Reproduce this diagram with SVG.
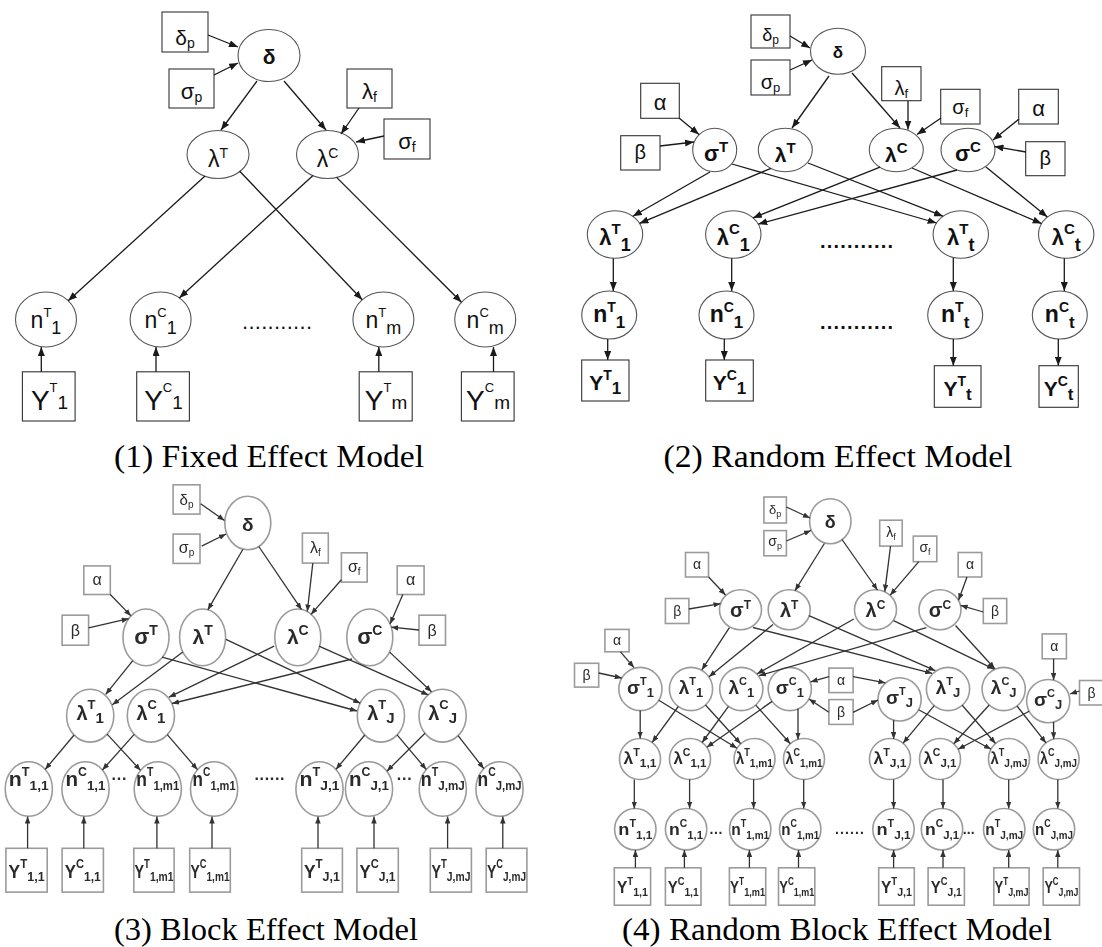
<svg xmlns="http://www.w3.org/2000/svg" width="1102" height="947" viewBox="0 0 1102 947">
<defs>
<style>
.s{font-family:"Liberation Sans",Arial,"DejaVu Sans",sans-serif;text-anchor:middle;fill:#111}
.g{fill:#2a2a2a}
.b{font-weight:bold}
.cap{font-family:"Liberation Serif","Times New Roman",serif;font-size:31px;text-anchor:middle;fill:#000}
.n1{fill:#fff;stroke:#555;stroke-width:1.1}
.r1{fill:#fff;stroke:#333;stroke-width:1.1}
.n3{fill:#fff;stroke:#9b9b9b;stroke-width:1.6}
.e1{fill:none;stroke:#1a1a1a;stroke-width:1.3;marker-end:url(#ah)}
.e3{fill:none;stroke:#333;stroke-width:1.3;marker-end:url(#ahs)}
.f9{font-size:9px}.f10{font-size:10px}.f11{font-size:11px}.f12{font-size:12px}.f13{font-size:13px}
.f14{font-size:14px}.f15{font-size:15px}.f16{font-size:16px}.f17{font-size:17px}.f18{font-size:18px}
.f19{font-size:19px}.f20{font-size:20px}.f21{font-size:21px}.f22{font-size:22px}.f23{font-size:23px}.f28{font-size:28px}
</style>
<marker id="ah" markerUnits="userSpaceOnUse" markerWidth="9" markerHeight="7" refX="9" refY="3.5" orient="auto" viewBox="0 0 9 7"><path d="M0,0 L9,3.5 L0,7 z" fill="#1a1a1a"/></marker>
<marker id="ahs" markerUnits="userSpaceOnUse" markerWidth="7" markerHeight="5.5" refX="7" refY="2.75" orient="auto" viewBox="0 0 7 5.5"><path d="M0,0 L7,2.75 L0,5.5 z" fill="#333"/></marker>
<filter id="soft" x="-5%" y="-5%" width="110%" height="110%"><feGaussianBlur stdDeviation="0.45"/></filter>
</defs>
<rect width="1102" height="947" fill="#fff"/>

<!-- ===== (1) Fixed Effect Model ===== -->
<g id="panel1">
<g id="p1-dp"><rect class="r1" x="162" y="12" width="46" height="40"/><text class="s f21" x="185" y="45">δ<tspan class="f14" dy="3">p</tspan></text></g>
<g id="p1-sp"><rect class="r1" x="169" y="69" width="45" height="39"/><text class="s f22" x="191.5" y="99">σ<tspan class="f14" dy="3">p</tspan></text></g>
<g id="p1-d"><ellipse class="n1" cx="269" cy="55.5" rx="31" ry="26"/><text class="s b f21" x="269" y="64">δ</text></g>
<g id="p1-lf"><rect class="r1" x="347" y="69" width="45" height="39"/><text class="s f22" x="369.5" y="99">λ<tspan class="f14" dy="3">f</tspan></text></g>
<g id="p1-sf"><rect class="r1" x="384" y="119" width="46" height="40"/><text class="s f22" x="407" y="149">σ<tspan class="f14" dy="3">f</tspan></text></g>
<g id="p1-lT"><ellipse class="n1" cx="218" cy="154.5" rx="31" ry="24"/><text class="s f23" x="218" y="166.5">λ<tspan class="f14" dy="-9">T</tspan></text></g>
<g id="p1-lC"><ellipse class="n1" cx="327.5" cy="154.5" rx="31" ry="24"/><text class="s f23" x="327.5" y="166.5">λ<tspan class="f14" dy="-9">C</tspan></text></g>
<g id="p1-nT1"><ellipse class="n1" cx="46" cy="319.5" rx="30.5" ry="27.5"/><text class="s f23" x="46" y="328">n<tspan class="f13" dy="-11">T</tspan><tspan class="f18" dy="17">1</tspan></text></g>
<g id="p1-nC1"><ellipse class="n1" cx="160.6" cy="319.5" rx="30.5" ry="27.5"/><text class="s f23" x="160.6" y="328">n<tspan class="f13" dy="-11">C</tspan><tspan class="f18" dy="17">1</tspan></text></g>
<g id="p1-nTm"><ellipse class="n1" cx="383.4" cy="319.5" rx="30.5" ry="27.5"/><text class="s f23" x="383.4" y="328">n<tspan class="f13" dy="-11">T</tspan><tspan class="f18" dy="17">m</tspan></text></g>
<g id="p1-nCm"><ellipse class="n1" cx="485.2" cy="319.5" rx="30.5" ry="27.5"/><text class="s f23" x="485.2" y="328">n<tspan class="f13" dy="-11">C</tspan><tspan class="f18" dy="17">m</tspan></text></g>
<text class="s f22" x="277" y="329" textLength="70" lengthAdjust="spacing">...........</text>
<g id="p1-YT1"><rect class="r1" x="22.4" y="371.8" width="52.7" height="49.2"/><text class="s f28" x="49.5" y="410">Y<tspan class="f13" dy="-18">T</tspan><tspan class="f19" dy="17">1</tspan></text></g>
<g id="p1-YC1"><rect class="r1" x="136.7" y="371.8" width="52.7" height="49.2"/><text class="s f28" x="163.5" y="410">Y<tspan class="f13" dy="-18">C</tspan><tspan class="f19" dy="17">1</tspan></text></g>
<g id="p1-YTm"><rect class="r1" x="359.2" y="371.8" width="53" height="49.2"/><text class="s f28" x="386" y="410">Y<tspan class="f13" dy="-18">T</tspan><tspan class="f19" dy="17">m</tspan></text></g>
<g id="p1-YCm"><rect class="r1" x="461.4" y="371.8" width="52.7" height="49.2"/><text class="s f28" x="488" y="410">Y<tspan class="f13" dy="-18">C</tspan><tspan class="f19" dy="17">m</tspan></text></g>
<g id="p1-edges">
<path class="e1" d="M208,35 L238,47"/>
<path class="e1" d="M214,75 L238,63"/>
<path class="e1" d="M257,81 L221,130"/>
<path class="e1" d="M284,81 L326,130"/>
<path class="e1" d="M359,108 L341,134"/>
<path class="e1" d="M384,136 L356,142"/>
<path class="e1" d="M205,176 L68.2,300.8"/>
<path class="e1" d="M239.5,171 L362.2,299.7"/>
<path class="e1" d="M313,175.4 L179.3,297.9"/>
<path class="e1" d="M336.6,177.4 L461.5,302.3"/>
<path class="e1" d="M41.3,371.8 L41.3,347"/>
<path class="e1" d="M156,371.8 L156,347"/>
<path class="e1" d="M378.8,371.8 L378.8,347"/>
<path class="e1" d="M493.5,371.8 L493.5,347"/>
</g>
<text class="cap" x="269" y="467" textLength="310" lengthAdjust="spacingAndGlyphs">(1) Fixed Effect Model</text>
</g>

<!-- ===== (2) Random Effect Model ===== -->
<g id="panel2">
<g id="p2-dp"><rect class="r1" x="751" y="15" width="39" height="33"/><text class="s f18" x="770.5" y="41">δ<tspan class="f12" dy="3">p</tspan></text></g>
<g id="p2-sp"><rect class="r1" x="751" y="60" width="39" height="35"/><text class="s f20" x="770.5" y="89">σ<tspan class="f13" dy="3">p</tspan></text></g>
<g id="p2-d"><ellipse class="n1" cx="838" cy="51.2" rx="27.5" ry="23"/><text class="s b f17" x="838" y="57.5">δ</text></g>
<g id="p2-lf"><rect class="r1" x="881.7" y="66.7" width="39.3" height="34"/><text class="s f20" x="901.3" y="95">λ<tspan class="f13" dy="3">f</tspan></text></g>
<g id="p2-sf"><rect class="r1" x="940.7" y="89.3" width="39.3" height="34.7"/><text class="s f20" x="960.3" y="114">σ<tspan class="f13" dy="3">f</tspan></text></g>
<g id="p2-aL"><rect class="r1" x="640.7" y="83.3" width="38.6" height="35"/><text class="s f22" x="660" y="110">α</text></g>
<g id="p2-bL"><rect class="r1" x="620.7" y="135.7" width="39.3" height="34.3"/><text class="s f20" x="640.3" y="159">β</text></g>
<g id="p2-aR"><rect class="r1" x="1018.7" y="89.3" width="39.6" height="34.7"/><text class="s f22" x="1038.5" y="116">α</text></g>
<g id="p2-bR"><rect class="r1" x="1025.7" y="141.7" width="39.3" height="34"/><text class="s f20" x="1045.3" y="165">β</text></g>
<g id="p2-sT"><ellipse class="n1" cx="714.7" cy="150" rx="22" ry="21.7"/><text class="s b f22" x="716" y="161">σ<tspan class="f15" dy="-9">T</tspan></text></g>
<g id="p2-lT"><ellipse class="n1" cx="785.3" cy="150" rx="27" ry="21.7"/><text class="s b f21" x="785.3" y="161.5">λ<tspan class="f15" dy="-9">T</tspan></text></g>
<g id="p2-lC"><ellipse class="n1" cx="896.3" cy="150" rx="27" ry="21.7"/><text class="s b f21" x="896.3" y="161.5">λ<tspan class="f15" dy="-9">C</tspan></text></g>
<g id="p2-sC"><ellipse class="n1" cx="968" cy="150" rx="27" ry="21.7"/><text class="s b f22" x="968" y="161">σ<tspan class="f15" dy="-9">C</tspan></text></g>
<g id="p2-lT1"><ellipse class="n1" cx="615" cy="234.5" rx="27.7" ry="23.8"/><text class="s b f22" x="615" y="245">λ<tspan class="f15" dy="-11">T</tspan><tspan class="f18" dy="17">1</tspan></text></g>
<g id="p2-lC1"><ellipse class="n1" cx="733.3" cy="234.5" rx="27.7" ry="23.8"/><text class="s b f22" x="733.3" y="245">λ<tspan class="f15" dy="-11">C</tspan><tspan class="f18" dy="17">1</tspan></text></g>
<g id="p2-lTt"><ellipse class="n1" cx="960.8" cy="234.5" rx="27.7" ry="23.8"/><text class="s b f22" x="960.8" y="245">λ<tspan class="f15" dy="-11">T</tspan><tspan class="f18" dy="17">t</tspan></text></g>
<g id="p2-lCt"><ellipse class="n1" cx="1066.2" cy="234.5" rx="27.7" ry="23.8"/><text class="s b f22" x="1066.2" y="245">λ<tspan class="f15" dy="-11">C</tspan><tspan class="f18" dy="17">t</tspan></text></g>
<text class="s b f20" x="856.5" y="248" textLength="73" lengthAdjust="spacing">...........</text>
<g id="p2-nT1"><ellipse class="n1" cx="609.2" cy="315" rx="27.5" ry="24"/><text class="s b f23" x="609.2" y="321.5">n<tspan class="f14" dy="-10">T</tspan><tspan class="f17" dy="16">1</tspan></text></g>
<g id="p2-nC1"><ellipse class="n1" cx="726.5" cy="315" rx="27.5" ry="24"/><text class="s b f23" x="726.5" y="321.5">n<tspan class="f14" dy="-10">C</tspan><tspan class="f17" dy="16">1</tspan></text></g>
<g id="p2-nTt"><ellipse class="n1" cx="955.2" cy="315" rx="27.5" ry="24"/><text class="s b f23" x="955.2" y="321.5">n<tspan class="f14" dy="-10">T</tspan><tspan class="f17" dy="16">t</tspan></text></g>
<g id="p2-nCt"><ellipse class="n1" cx="1059.8" cy="315" rx="27.5" ry="24"/><text class="s b f23" x="1059.8" y="321.5">n<tspan class="f14" dy="-10">C</tspan><tspan class="f17" dy="16">t</tspan></text></g>
<text class="s b f20" x="856.5" y="328.5" textLength="73" lengthAdjust="spacing">...........</text>
<g id="p2-YT1"><rect class="r1" x="581.7" y="360" width="47.3" height="41"/><text class="s b f21" x="605.3" y="390">Y<tspan class="f14" dy="-10">T</tspan><tspan class="f17" dy="14">1</tspan></text></g>
<g id="p2-YC1"><rect class="r1" x="705.7" y="360" width="47.6" height="41"/><text class="s b f21" x="729.5" y="390">Y<tspan class="f14" dy="-10">C</tspan><tspan class="f17" dy="14">1</tspan></text></g>
<g id="p2-YTt"><rect class="r1" x="934.3" y="365.7" width="46.7" height="41.6"/><text class="s b f21" x="957.6" y="395.5">Y<tspan class="f14" dy="-10">T</tspan><tspan class="f17" dy="14">t</tspan></text></g>
<g id="p2-YCt"><rect class="r1" x="1039" y="365.7" width="39.3" height="41.6"/><text class="s b f21" x="1058.6" y="395.5">Y<tspan class="f14" dy="-10">C</tspan><tspan class="f17" dy="14">t</tspan></text></g>
<g id="p2-edges">
<path class="e1" d="M790,36 L810,48"/>
<path class="e1" d="M790,70 L812,60"/>
<path class="e1" d="M829,76 L792,128"/>
<path class="e1" d="M852,73 L900,128"/>
<path class="e1" d="M908,101 L908,129.5"/>
<path class="e1" d="M941,118 L917,134.5"/>
<path class="e1" d="M679,118 L699,134.5"/>
<path class="e1" d="M660,146 L694,142"/>
<path class="e1" d="M1019,119 L993,140"/>
<path class="e1" d="M1026,152 L994.5,146.5"/>
<path class="e1" d="M710,172 L632.8,216.3"/>
<path class="e1" d="M771,168.3 L639.5,223.4"/>
<path class="e1" d="M732,164 L936.6,223"/>
<path class="e1" d="M808,163 L943,216.2"/>
<path class="e1" d="M880,167.2 L752.9,217.9"/>
<path class="e1" d="M957,170 L758.3,224.1"/>
<path class="e1" d="M912,168 L1041.6,223.6"/>
<path class="e1" d="M986,167 L1047.4,217"/>
<path class="e1" d="M613.3,258.3 L613.3,291"/>
<path class="e1" d="M731.7,258.3 L731.7,291"/>
<path class="e1" d="M953.3,258 L953.3,291"/>
<path class="e1" d="M1064.3,258.3 L1064.3,291"/>
<path class="e1" d="M607.7,339 L607.7,360"/>
<path class="e1" d="M724.3,339 L724.3,360"/>
<path class="e1" d="M953.3,339 L953.3,365.7"/>
<path class="e1" d="M1058.3,339 L1058.3,365.7"/>
</g>
<text class="cap" x="838" y="467" textLength="349" lengthAdjust="spacingAndGlyphs">(2) Random Effect Model</text>
</g>

<!-- ===== (3) Block Effect Model ===== -->
<g id="panel3" filter="url(#soft)">
<g id="p3-dp"><rect class="n3" x="173.1" y="484.8" width="26.9" height="29.3"/><text class="s g f15" x="186.5" y="505">δ<tspan class="f10" dy="3">p</tspan></text></g>
<g id="p3-sp"><rect class="n3" x="173.1" y="534.1" width="26.9" height="29.3"/><text class="s g f16" x="186.5" y="553">σ<tspan class="f10" dy="3">p</tspan></text></g>
<g id="p3-d"><ellipse class="n3" cx="247.8" cy="523" rx="23" ry="26.7"/><text class="s g b f19" x="247.8" y="531">δ</text></g>
<g id="p3-lf"><rect class="n3" x="302.4" y="533.1" width="25.9" height="30"/><text class="s g f16" x="315.3" y="553">λ<tspan class="f10" dy="3">f</tspan></text></g>
<g id="p3-sf"><rect class="n3" x="341.4" y="552.8" width="25.8" height="29.3"/><text class="s g f16" x="354.3" y="572">σ<tspan class="f10" dy="3">f</tspan></text></g>
<g id="p3-aL"><rect class="n3" x="83.8" y="565.9" width="26.5" height="28.6"/><text class="s g f16" x="97" y="585">α</text></g>
<g id="p3-bL"><rect class="n3" x="62.1" y="615.2" width="26.5" height="30"/><text class="s g f16" x="75.3" y="636">β</text></g>
<g id="p3-aR"><rect class="n3" x="397.2" y="565.9" width="26.9" height="28.6"/><text class="s g f16" x="410.6" y="585">α</text></g>
<g id="p3-bR"><rect class="n3" x="419" y="615.2" width="26.5" height="30"/><text class="s g f16" x="432.2" y="636">β</text></g>
<g id="p3-sT"><ellipse class="n3" cx="146" cy="637.4" rx="23" ry="28.4"/><text class="s g b f22" x="146" y="644">σ<tspan class="f14" dy="-9">T</tspan></text></g>
<g id="p3-lT"><ellipse class="n3" cx="202.6" cy="637.4" rx="23" ry="28.4"/><text class="s g b f21" x="202.6" y="644">λ<tspan class="f14" dy="-9">T</tspan></text></g>
<g id="p3-lC"><ellipse class="n3" cx="297.8" cy="637.4" rx="23" ry="28.4"/><text class="s g b f21" x="297.8" y="644">λ<tspan class="f14" dy="-9">C</tspan></text></g>
<g id="p3-sC"><ellipse class="n3" cx="369.8" cy="637.4" rx="23" ry="28.4"/><text class="s g b f22" x="369.8" y="644">σ<tspan class="f14" dy="-9">C</tspan></text></g>
<g id="p3-lT1"><ellipse class="n3" cx="90.2" cy="715.7" rx="23.6" ry="26.4"/><text class="s g b f20" x="90.2" y="720">λ<tspan class="f13" dy="-11">T</tspan><tspan class="f15" dy="14">1</tspan></text></g>
<g id="p3-lC1"><ellipse class="n3" cx="150.9" cy="715.7" rx="23.6" ry="26.4"/><text class="s g b f20" x="150.9" y="720">λ<tspan class="f13" dy="-11">C</tspan><tspan class="f15" dy="14">1</tspan></text></g>
<g id="p3-lTJ"><ellipse class="n3" cx="380.9" cy="715.7" rx="23.6" ry="26.4"/><text class="s g b f20" x="380.9" y="720">λ<tspan class="f13" dy="-11">T</tspan><tspan class="f15" dy="14">J</tspan></text></g>
<g id="p3-lCJ"><ellipse class="n3" cx="442.6" cy="715.7" rx="23.6" ry="26.4"/><text class="s g b f20" x="442.6" y="720">λ<tspan class="f13" dy="-11">C</tspan><tspan class="f15" dy="14">J</tspan></text></g>
<g id="p3-nT11"><ellipse class="n3" cx="28.8" cy="789" rx="23.6" ry="27.2"/><text class="s g b f20" x="28.8" y="786" textLength="40" lengthAdjust="spacingAndGlyphs">n<tspan class="f12" dy="-10">T</tspan><tspan class="f13" dy="14">1,1</tspan></text></g>
<g id="p3-nC11"><ellipse class="n3" cx="85.5" cy="789" rx="23.6" ry="27.2"/><text class="s g b f20" x="85.5" y="786" textLength="40" lengthAdjust="spacingAndGlyphs">n<tspan class="f12" dy="-10">C</tspan><tspan class="f13" dy="14">1,1</tspan></text></g>
<g id="p3-nT1m"><ellipse class="n3" cx="157.8" cy="789" rx="23.6" ry="27.2"/><text class="s g b f20" x="157.8" y="786" textLength="43" lengthAdjust="spacingAndGlyphs">n<tspan class="f12" dy="-10">T</tspan><tspan class="f13" dy="14">1,m1</tspan></text></g>
<g id="p3-nC1m"><ellipse class="n3" cx="214.1" cy="789" rx="23.6" ry="27.2"/><text class="s g b f20" x="214.1" y="786" textLength="43" lengthAdjust="spacingAndGlyphs">n<tspan class="f12" dy="-10">C</tspan><tspan class="f13" dy="14">1,m1</tspan></text></g>
<g id="p3-nTJ1"><ellipse class="n3" cx="319.5" cy="789" rx="23.6" ry="27.2"/><text class="s g b f20" x="319.5" y="786" textLength="40" lengthAdjust="spacingAndGlyphs">n<tspan class="f12" dy="-10">T</tspan><tspan class="f13" dy="14">J,1</tspan></text></g>
<g id="p3-nCJ1"><ellipse class="n3" cx="369" cy="789" rx="23.6" ry="27.2"/><text class="s g b f20" x="369" y="786" textLength="40" lengthAdjust="spacingAndGlyphs">n<tspan class="f12" dy="-10">C</tspan><tspan class="f13" dy="14">J,1</tspan></text></g>
<g id="p3-nTJm"><ellipse class="n3" cx="442.8" cy="789" rx="23.6" ry="27.2"/><text class="s g b f20" x="442.8" y="786" textLength="44" lengthAdjust="spacingAndGlyphs">n<tspan class="f12" dy="-10">T</tspan><tspan class="f13" dy="14">J,mJ</tspan></text></g>
<g id="p3-nCJm"><ellipse class="n3" cx="499.5" cy="789" rx="23.6" ry="27.2"/><text class="s g b f20" x="499.5" y="786" textLength="44" lengthAdjust="spacingAndGlyphs">n<tspan class="f12" dy="-10">C</tspan><tspan class="f13" dy="14">J,mJ</tspan></text></g>
<text class="s g b f16" x="119" y="779.5" textLength="15" lengthAdjust="spacing">...</text>
<text class="s g b f16" x="269.5" y="779.5" textLength="30" lengthAdjust="spacing">......</text>
<text class="s g b f16" x="404.3" y="779.5" textLength="15" lengthAdjust="spacing">...</text>
<g id="p3-YT11"><rect class="n3" x="5.9" y="848.3" width="41.3" height="43.8"/><text class="s g b f18" x="26.6" y="878.3" textLength="36" lengthAdjust="spacingAndGlyphs">Y<tspan class="f12" dy="-10">T</tspan><tspan class="f13" dy="13">1,1</tspan></text></g>
<g id="p3-YC11"><rect class="n3" x="62.1" y="848.3" width="41.3" height="43.8"/><text class="s g b f18" x="82.8" y="878.3" textLength="36" lengthAdjust="spacingAndGlyphs">Y<tspan class="f12" dy="-10">C</tspan><tspan class="f13" dy="13">1,1</tspan></text></g>
<g id="p3-YT1m"><rect class="n3" x="133.8" y="848.3" width="40.3" height="43.8"/><text class="s g b f18" x="154" y="878.3" textLength="39" lengthAdjust="spacingAndGlyphs">Y<tspan class="f12" dy="-10">T</tspan><tspan class="f13" dy="13">1,m1</tspan></text></g>
<g id="p3-YC1m"><rect class="n3" x="189.7" y="848.3" width="40.6" height="43.8"/><text class="s g b f18" x="210" y="878.3" textLength="39" lengthAdjust="spacingAndGlyphs">Y<tspan class="f12" dy="-10">C</tspan><tspan class="f13" dy="13">1,m1</tspan></text></g>
<g id="p3-YTJ1"><rect class="n3" x="301.7" y="848.3" width="40.7" height="43.8"/><text class="s g b f18" x="322" y="878.3" textLength="36" lengthAdjust="spacingAndGlyphs">Y<tspan class="f12" dy="-10">T</tspan><tspan class="f13" dy="13">J,1</tspan></text></g>
<g id="p3-YCJ1"><rect class="n3" x="356.9" y="848.3" width="41.4" height="43.8"/><text class="s g b f18" x="377.6" y="878.3" textLength="36" lengthAdjust="spacingAndGlyphs">Y<tspan class="f12" dy="-10">C</tspan><tspan class="f13" dy="13">J,1</tspan></text></g>
<g id="p3-YTJm"><rect class="n3" x="430.3" y="848.3" width="41.1" height="43.8"/><text class="s g b f18" x="450.9" y="878.3" textLength="39" lengthAdjust="spacingAndGlyphs">Y<tspan class="f12" dy="-10">T</tspan><tspan class="f13" dy="13">J,mJ</tspan></text></g>
<g id="p3-YCJm"><rect class="n3" x="486.2" y="848.3" width="40.7" height="43.8"/><text class="s g b f18" x="506.5" y="878.3" textLength="39" lengthAdjust="spacingAndGlyphs">Y<tspan class="f12" dy="-10">C</tspan><tspan class="f13" dy="13">J,mJ</tspan></text></g>
<g id="p3-edges">
<path class="e3" d="M200.7,503.8 L224.5,520.5"/>
<path class="e3" d="M201.7,546.2 L226,534"/>
<path class="e3" d="M242.8,549.5 L207.8,609.9"/>
<path class="e3" d="M258.8,546.5 L301.6,609.7"/>
<path class="e3" d="M312.8,563.1 L307.3,611.5"/>
<path class="e3" d="M341.4,579.7 L311,614.4"/>
<path class="e3" d="M110.3,594.5 L131,615.9"/>
<path class="e3" d="M88.6,627.9 L128.7,618.7"/>
<path class="e3" d="M402.8,594.5 L390.1,623.9"/>
<path class="e3" d="M419,630 L391.3,627.2"/>
<path class="e3" d="M132.8,660.7 L105.7,694.4"/>
<path class="e3" d="M182.8,652.1 L112.3,704.8"/>
<path class="e3" d="M162.1,657.2 L356.9,711"/>
<path class="e3" d="M225.9,639.3 L360.2,703.2"/>
<path class="e3" d="M274.1,646.2 L169,697.2"/>
<path class="e3" d="M352,659 L172.1,703.5"/>
<path class="e3" d="M319,646.2 L428.3,694.9"/>
<path class="e3" d="M389.7,652.1 L431.5,691.8"/>
<path class="e3" d="M74.1,735 L45.2,769.4"/>
<path class="e3" d="M107.1,734.1 L140.6,770.4"/>
<path class="e3" d="M134.2,734.4 L102.4,770"/>
<path class="e3" d="M167.3,734.7 L197.5,769.7"/>
<path class="e3" d="M364.8,735 L335.9,769.4"/>
<path class="e3" d="M397.1,734.9 L426.3,769.5"/>
<path class="e3" d="M425,733.3 L386.9,771.2"/>
<path class="e3" d="M458.1,735.6 L483.8,768.7"/>
<path class="e3" d="M27.6,848.3 L27.6,816.5"/>
<path class="e3" d="M83.8,848.3 L83.8,816.5"/>
<path class="e3" d="M156.9,848.3 L156.9,816.5"/>
<path class="e3" d="M212,848.3 L212,816.5"/>
<path class="e3" d="M318,848.3 L318,816.5"/>
<path class="e3" d="M374,848.3 L374,816.5"/>
<path class="e3" d="M447.6,848.3 L447.6,816.5"/>
<path class="e3" d="M502.8,848.3 L502.8,816.5"/>
</g>
</g>
<text class="cap" x="266" y="939.5" textLength="304" lengthAdjust="spacingAndGlyphs">(3) Block Effect Model</text>

<!-- ===== (4) Random Block Effect Model ===== -->
<g id="panel4" filter="url(#soft)">
<g id="p4-dp"><rect class="n3" x="763.9" y="497" width="22.5" height="26"/><text class="s g f13" x="775.2" y="514">δ<tspan class="f9" dy="3">p</tspan></text></g>
<g id="p4-sp"><rect class="n3" x="763.9" y="530.6" width="22.5" height="25.2"/><text class="s g f14" x="775.2" y="546">σ<tspan class="f9" dy="3">p</tspan></text></g>
<g id="p4-d"><ellipse class="n3" cx="830.3" cy="521.2" rx="20.7" ry="22.5"/><text class="s g b f18" x="830.3" y="528">δ</text></g>
<g id="p4-lf"><rect class="n3" x="879.7" y="520.2" width="22.5" height="25.9"/><text class="s g f14" x="891" y="537">λ<tspan class="f9" dy="3">f</tspan></text></g>
<g id="p4-sf"><rect class="n3" x="913.3" y="536.1" width="23.5" height="25.6"/><text class="s g f14" x="925" y="552">σ<tspan class="f9" dy="3">f</tspan></text></g>
<g id="p4-aL"><rect class="n3" x="685.5" y="552.5" width="23" height="24.5"/><text class="s g f14" x="697" y="569">α</text></g>
<g id="p4-bL"><rect class="n3" x="665.4" y="598.5" width="23.5" height="25"/><text class="s g f14" x="677.2" y="616">β</text></g>
<g id="p4-aR"><rect class="n3" x="958.2" y="552.5" width="23.5" height="24.5"/><text class="s g f14" x="970" y="569">α</text></g>
<g id="p4-bR"><rect class="n3" x="983.3" y="598.5" width="23.4" height="25"/><text class="s g f14" x="995" y="616">β</text></g>
<g id="p4-sT"><ellipse class="n3" cx="740.5" cy="609.7" rx="21" ry="20"/><text class="s g b f20" x="740.5" y="616.5">σ<tspan class="f12" dy="-8">T</tspan></text></g>
<g id="p4-lT"><ellipse class="n3" cx="789.2" cy="609.7" rx="21" ry="20"/><text class="s g b f20" x="789.2" y="616.5">λ<tspan class="f12" dy="-8">T</tspan></text></g>
<g id="p4-lC"><ellipse class="n3" cx="875.5" cy="609.7" rx="21" ry="20"/><text class="s g b f20" x="875.5" y="616.5">λ<tspan class="f12" dy="-8">C</tspan></text></g>
<g id="p4-sC"><ellipse class="n3" cx="940" cy="609.7" rx="21" ry="20"/><text class="s g b f20" x="940" y="616.5">σ<tspan class="f12" dy="-8">C</tspan></text></g>
<g id="p4-aL2"><rect class="n3" x="604.9" y="629.4" width="24.2" height="22.4"/><text class="s g f14" x="617" y="645">α</text></g>
<g id="p4-bL2"><rect class="n3" x="574.5" y="663.3" width="24.2" height="23.8"/><text class="s g f14" x="586.6" y="680">β</text></g>
<g id="p4-aM"><rect class="n3" x="828.9" y="668.1" width="24.2" height="24.5"/><text class="s g f14" x="841" y="685">α</text></g>
<g id="p4-bM"><rect class="n3" x="828.9" y="699.6" width="24.2" height="24.8"/><text class="s g f14" x="841" y="717">β</text></g>
<g id="p4-aR2"><rect class="n3" x="1042.2" y="633.9" width="24.2" height="24.9"/><text class="s g f14" x="1054.3" y="651">α</text></g>
<g id="p4-bR2"><rect class="n3" x="1079.5" y="680.5" width="24" height="24.5"/><text class="s g f14" x="1091.5" y="698">β</text></g>
<g id="p4-sT1"><ellipse class="n3" cx="640.4" cy="689" rx="21.6" ry="21.6"/><text class="s g b f19" x="640.4" y="694">σ<tspan class="f11" dy="-9">T</tspan><tspan class="f13" dy="12">1</tspan></text></g>
<g id="p4-lT1"><ellipse class="n3" cx="691" cy="689" rx="21.6" ry="21.6"/><text class="s g b f19" x="691" y="694">λ<tspan class="f11" dy="-9">T</tspan><tspan class="f13" dy="12">1</tspan></text></g>
<g id="p4-lC1"><ellipse class="n3" cx="741.3" cy="689" rx="21.6" ry="21.6"/><text class="s g b f19" x="741.3" y="694">λ<tspan class="f11" dy="-9">C</tspan><tspan class="f13" dy="12">1</tspan></text></g>
<g id="p4-sC1"><ellipse class="n3" cx="789.8" cy="689" rx="21.6" ry="21.6"/><text class="s g b f19" x="789.8" y="694">σ<tspan class="f11" dy="-9">C</tspan><tspan class="f13" dy="12">1</tspan></text></g>
<g id="p4-sTJ"><ellipse class="n3" cx="899.6" cy="699.4" rx="21.6" ry="21.6"/><text class="s g b f19" x="899.6" y="704.4">σ<tspan class="f11" dy="-9">T</tspan><tspan class="f13" dy="12">J</tspan></text></g>
<g id="p4-lTJ"><ellipse class="n3" cx="948" cy="689" rx="21.6" ry="21.6"/><text class="s g b f19" x="948" y="694">λ<tspan class="f11" dy="-9">T</tspan><tspan class="f13" dy="12">J</tspan></text></g>
<g id="p4-lCJ"><ellipse class="n3" cx="1003.7" cy="689" rx="21.6" ry="21.6"/><text class="s g b f19" x="1003.7" y="694">λ<tspan class="f11" dy="-9">C</tspan><tspan class="f13" dy="12">J</tspan></text></g>
<g id="p4-sCJ"><ellipse class="n3" cx="1048.2" cy="701.1" rx="21.6" ry="21.6"/><text class="s g b f19" x="1048.2" y="706.1">σ<tspan class="f11" dy="-9">C</tspan><tspan class="f13" dy="12">J</tspan></text></g>
<g id="p4-lT11"><ellipse class="n3" cx="640" cy="759" rx="20.5" ry="20.5"/><text class="s g b f16" x="640" y="764" textLength="33" lengthAdjust="spacingAndGlyphs">λ<tspan class="f10" dy="-8">T</tspan><tspan class="f11" dy="11">1,1</tspan></text></g>
<g id="p4-lC11"><ellipse class="n3" cx="690" cy="759" rx="20.5" ry="20.5"/><text class="s g b f16" x="690" y="764" textLength="33" lengthAdjust="spacingAndGlyphs">λ<tspan class="f10" dy="-8">C</tspan><tspan class="f11" dy="11">1,1</tspan></text></g>
<g id="p4-lT1m"><ellipse class="n3" cx="754.5" cy="759" rx="20.5" ry="20.5"/><text class="s g b f16" x="754.5" y="764" textLength="37" lengthAdjust="spacingAndGlyphs">λ<tspan class="f10" dy="-8">T</tspan><tspan class="f11" dy="11">1,m1</tspan></text></g>
<g id="p4-lC1m"><ellipse class="n3" cx="804" cy="759" rx="20.5" ry="20.5"/><text class="s g b f16" x="804" y="764" textLength="37" lengthAdjust="spacingAndGlyphs">λ<tspan class="f10" dy="-8">C</tspan><tspan class="f11" dy="11">1,m1</tspan></text></g>
<g id="p4-lTJ1"><ellipse class="n3" cx="890" cy="759" rx="20.5" ry="20.5"/><text class="s g b f16" x="890" y="764" textLength="33" lengthAdjust="spacingAndGlyphs">λ<tspan class="f10" dy="-8">T</tspan><tspan class="f11" dy="11">J,1</tspan></text></g>
<g id="p4-lCJ1"><ellipse class="n3" cx="940" cy="759" rx="20.5" ry="20.5"/><text class="s g b f16" x="940" y="764" textLength="33" lengthAdjust="spacingAndGlyphs">λ<tspan class="f10" dy="-8">C</tspan><tspan class="f11" dy="11">J,1</tspan></text></g>
<g id="p4-lTJm"><ellipse class="n3" cx="1009" cy="759" rx="20.5" ry="20.5"/><text class="s g b f16" x="1009" y="764" textLength="37" lengthAdjust="spacingAndGlyphs">λ<tspan class="f10" dy="-8">T</tspan><tspan class="f11" dy="11">J,mJ</tspan></text></g>
<g id="p4-lCJm"><ellipse class="n3" cx="1058.6" cy="759" rx="20.5" ry="20.5"/><text class="s g b f16" x="1058.6" y="764" textLength="37" lengthAdjust="spacingAndGlyphs">λ<tspan class="f10" dy="-8">C</tspan><tspan class="f11" dy="11">J,mJ</tspan></text></g>
<g id="p4-nT11"><ellipse class="n3" cx="635.3" cy="829.2" rx="20.7" ry="20.7"/><text class="s g b f17" x="635.3" y="835" textLength="34" lengthAdjust="spacingAndGlyphs">n<tspan class="f10" dy="-8">T</tspan><tspan class="f11" dy="12">1,1</tspan></text></g>
<g id="p4-nC11"><ellipse class="n3" cx="686.1" cy="829.2" rx="20.7" ry="20.7"/><text class="s g b f17" x="686.1" y="835" textLength="34" lengthAdjust="spacingAndGlyphs">n<tspan class="f10" dy="-8">C</tspan><tspan class="f11" dy="12">1,1</tspan></text></g>
<g id="p4-nT1m"><ellipse class="n3" cx="750.2" cy="829.2" rx="20.7" ry="20.7"/><text class="s g b f17" x="750.2" y="835" textLength="38" lengthAdjust="spacingAndGlyphs">n<tspan class="f10" dy="-8">T</tspan><tspan class="f11" dy="12">1,m1</tspan></text></g>
<g id="p4-nC1m"><ellipse class="n3" cx="800.2" cy="829.2" rx="20.7" ry="20.7"/><text class="s g b f17" x="800.2" y="835" textLength="38" lengthAdjust="spacingAndGlyphs">n<tspan class="f10" dy="-8">C</tspan><tspan class="f11" dy="12">1,m1</tspan></text></g>
<g id="p4-nTJ1"><ellipse class="n3" cx="893.5" cy="829.2" rx="20.7" ry="20.7"/><text class="s g b f17" x="893.5" y="835" textLength="34" lengthAdjust="spacingAndGlyphs">n<tspan class="f10" dy="-8">T</tspan><tspan class="f11" dy="12">J,1</tspan></text></g>
<g id="p4-nCJ1"><ellipse class="n3" cx="942" cy="829.2" rx="20.7" ry="20.7"/><text class="s g b f17" x="942" y="835" textLength="34" lengthAdjust="spacingAndGlyphs">n<tspan class="f10" dy="-8">C</tspan><tspan class="f11" dy="12">J,1</tspan></text></g>
<g id="p4-nTJm"><ellipse class="n3" cx="1004.2" cy="829.2" rx="20.7" ry="20.7"/><text class="s g b f17" x="1004.2" y="835" textLength="38" lengthAdjust="spacingAndGlyphs">n<tspan class="f10" dy="-8">T</tspan><tspan class="f11" dy="12">J,mJ</tspan></text></g>
<g id="p4-nCJm"><ellipse class="n3" cx="1054" cy="829.2" rx="20.7" ry="20.7"/><text class="s g b f17" x="1054" y="835" textLength="38" lengthAdjust="spacingAndGlyphs">n<tspan class="f10" dy="-8">C</tspan><tspan class="f11" dy="12">J,mJ</tspan></text></g>
<text class="s g b f14" x="716" y="833.5" textLength="13" lengthAdjust="spacing">...</text>
<text class="s g b f14" x="849.5" y="834" textLength="29" lengthAdjust="spacing">......</text>
<text class="s g b f14" x="968.7" y="833.5" textLength="12" lengthAdjust="spacing">...</text>
<g id="p4-YT11"><rect class="n3" x="614.3" y="867.8" width="36.3" height="37.4"/><text class="s g b f16" x="632.5" y="893" textLength="31" lengthAdjust="spacingAndGlyphs">Y<tspan class="f10" dy="-8">T</tspan><tspan class="f11" dy="11">1,1</tspan></text></g>
<g id="p4-YC11"><rect class="n3" x="665.4" y="867.8" width="35.6" height="37.4"/><text class="s g b f16" x="683.2" y="893" textLength="31" lengthAdjust="spacingAndGlyphs">Y<tspan class="f10" dy="-8">C</tspan><tspan class="f11" dy="11">1,1</tspan></text></g>
<g id="p4-YT1m"><rect class="n3" x="729.4" y="867.8" width="36.3" height="37.4"/><text class="s g b f16" x="747.6" y="893" textLength="35" lengthAdjust="spacingAndGlyphs">Y<tspan class="f10" dy="-8">T</tspan><tspan class="f11" dy="11">1,m1</tspan></text></g>
<g id="p4-YC1m"><rect class="n3" x="778.5" y="867.8" width="36.3" height="37.4"/><text class="s g b f16" x="796.7" y="893" textLength="35" lengthAdjust="spacingAndGlyphs">Y<tspan class="f10" dy="-8">C</tspan><tspan class="f11" dy="11">1,m1</tspan></text></g>
<g id="p4-YTJ1"><rect class="n3" x="878.7" y="867.8" width="35.6" height="37.4"/><text class="s g b f16" x="896.5" y="893" textLength="31" lengthAdjust="spacingAndGlyphs">Y<tspan class="f10" dy="-8">T</tspan><tspan class="f11" dy="11">J,1</tspan></text></g>
<g id="p4-YCJ1"><rect class="n3" x="928.1" y="867.8" width="36.3" height="37.4"/><text class="s g b f16" x="946.3" y="893" textLength="31" lengthAdjust="spacingAndGlyphs">Y<tspan class="f10" dy="-8">C</tspan><tspan class="f11" dy="11">J,1</tspan></text></g>
<g id="p4-YTJm"><rect class="n3" x="993.8" y="867.8" width="35.3" height="37.4"/><text class="s g b f16" x="1011.5" y="893" textLength="34" lengthAdjust="spacingAndGlyphs">Y<tspan class="f10" dy="-8">T</tspan><tspan class="f11" dy="11">J,mJ</tspan></text></g>
<g id="p4-YCJm"><rect class="n3" x="1043.2" y="867.8" width="36.3" height="37.4"/><text class="s g b f16" x="1061.4" y="893" textLength="34" lengthAdjust="spacingAndGlyphs">Y<tspan class="f10" dy="-8">C</tspan><tspan class="f11" dy="11">J,mJ</tspan></text></g>
<g id="p4-edges">
<path class="e3" d="M786.4,507 L810,518"/>
<path class="e3" d="M786.4,541 L811,530.5"/>
<path class="e3" d="M824.4,543.5 L795,590.7"/>
<path class="e3" d="M842,539.5 L877.5,590"/>
<path class="e3" d="M890.5,546.1 L884.8,591.6"/>
<path class="e3" d="M918.8,561.7 L890.2,595.2"/>
<path class="e3" d="M708.6,577 L725.5,595"/>
<path class="e3" d="M688.9,609 L720.5,603.7"/>
<path class="e3" d="M967,577 L958.5,600.3"/>
<path class="e3" d="M983.3,612 L960.6,605.3"/>
<path class="e3" d="M729.4,627.7 L701.8,669.9"/>
<path class="e3" d="M773,624.6 L709,676.8"/>
<path class="e3" d="M753,627.5 L932.1,673.3"/>
<path class="e3" d="M808.9,615.6 L935.3,670.7"/>
<path class="e3" d="M853.8,619 L757,673.9"/>
<path class="e3" d="M926.4,627.7 L759.1,675.7"/>
<path class="e3" d="M893.6,620.7 L994,669.1"/>
<path class="e3" d="M955.5,625.5 L994.8,668.7"/>
<path class="e3" d="M620.5,651.8 L634,667.6"/>
<path class="e3" d="M598.7,673 L621.7,678"/>
<path class="e3" d="M828.9,676.7 L810.6,681.9"/>
<path class="e3" d="M853.1,676.7 L885.4,682.8"/>
<path class="e3" d="M828.9,712.3 L809,699"/>
<path class="e3" d="M853.1,712.3 L878,700"/>
<path class="e3" d="M1053.6,658.8 L1053.6,680"/>
<path class="e3" d="M1079.5,691 L1070,694"/>
<path class="e3" d="M640.2,710.6 L640.2,738.5"/>
<path class="e3" d="M658.8,700.3 L737,748.3"/>
<path class="e3" d="M678.3,706.5 L652.1,742.4"/>
<path class="e3" d="M705.5,705 L740.7,743.8"/>
<path class="e3" d="M728.5,706.4 L702.1,742.5"/>
<path class="e3" d="M755.7,705.1 L790.3,743.7"/>
<path class="e3" d="M772.1,701.4 L706.8,747.2"/>
<path class="e3" d="M798,708.4 L798,739.5"/>
<path class="e3" d="M893.6,720.2 L893.6,739"/>
<path class="e3" d="M918.6,709.7 L991,749.2"/>
<path class="e3" d="M934.2,705.6 L903.1,743.2"/>
<path class="e3" d="M962.2,705.3 L995.5,743.5"/>
<path class="e3" d="M989.2,705 L953.8,743.8"/>
<path class="e3" d="M1017,706 L1046,742.9"/>
<path class="e3" d="M1029.1,711.3 L958.1,749.3"/>
<path class="e3" d="M1053.6,722 L1053.6,739.2"/>
<path class="e3" d="M634.3,779.4 L634.3,808.6"/>
<path class="e3" d="M689.6,779.4 L689.6,808.6"/>
<path class="e3" d="M753.6,779.4 L753.6,808.6"/>
<path class="e3" d="M803.7,779.4 L803.7,808.6"/>
<path class="e3" d="M893.6,779.4 L893.6,808.6"/>
<path class="e3" d="M943,779.4 L943,808.6"/>
<path class="e3" d="M1008.7,779.4 L1008.7,808.6"/>
<path class="e3" d="M1057.8,779.4 L1057.8,808.6"/>
<path class="e3" d="M635.4,867.8 L635.4,850"/>
<path class="e3" d="M684.4,867.8 L684.4,850"/>
<path class="e3" d="M749.4,867.8 L749.4,850"/>
<path class="e3" d="M798.5,867.8 L798.5,850"/>
<path class="e3" d="M893.6,867.8 L893.6,850"/>
<path class="e3" d="M943,867.8 L943,850"/>
<path class="e3" d="M1008.7,867.8 L1008.7,850"/>
<path class="e3" d="M1057.8,867.8 L1057.8,850"/>
</g>
</g>
<text class="cap" x="837" y="939.5" textLength="430" lengthAdjust="spacingAndGlyphs">(4) Random Block Effect Model</text>
</svg>
